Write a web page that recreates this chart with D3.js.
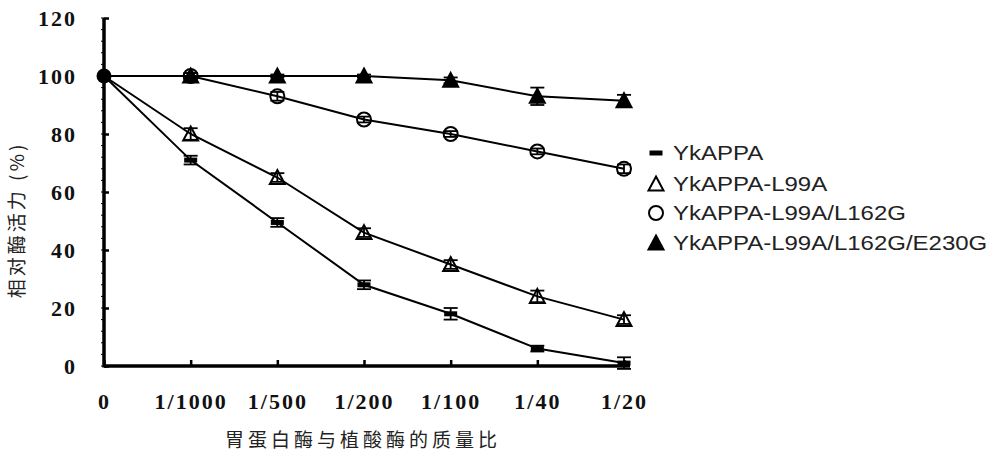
<!DOCTYPE html>
<html>
<head>
<meta charset="utf-8">
<script src="https://cdn.jsdelivr.net/npm/d3@7/dist/d3.min.js"></script>
<style>
body { margin: 0; background: #fff; }
.tick text { font-family: "Liberation Serif", "Times New Roman", serif; font-weight: bold; font-size: 22px; fill: #111; letter-spacing: 2px; }
</style>
</head>
<body>
<div id="chart"></div>
<script>
// data
var categories = ["0", "1/1000", "1/500", "1/200", "1/100", "1/40", "1/20"];
var yTicks = [0, 20, 40, 60, 80, 100, 120];
var seriesNames = ["YkAPPA", "YkAPPA-L99A", "YkAPPA-L99A/L162G", "YkAPPA-L99A/L162G/E230G"];
var ykappa = [100, 71, 49.5, 28, 18, 6, 1];
var ykappaErr = [0.5, 1.5, 1.5, 1.5, 2, 1, 2];
var l99a = [100, 80, 65, 46, 35, 24, 16];
var l99aErr = [0.5, 2, 1.5, 1.5, 1.5, 2, 1.5];
var l162g = [100, 100, 93, 85, 80, 74, 68];
var l162gErr = [0.5, 1, 1.5, 1, 1, 1, 1.5];
var e230g = [100, 100, 100, 100, 98.5, 93, 91.5];
var e230gErr = [0.5, 1, 0.5, 0.5, 1, 3, 2];

var svgWidth = 1000;
var svgHeight = 462;

var svg = d3.select("#chart")
	.append("svg")
	.attr("width", svgWidth)
	.attr("height", svgHeight);

var xScale = d3.scalePoint()
	.domain(categories)
	.range([104, 624]);

var yScale = d3.scaleLinear()
	.domain([0, 120])
	.range([366, 18]);

//series table, built from the arrays above
var series = [
	{name: seriesNames[0], values: ykappa, err: ykappaErr, marker: "bar"},
	{name: seriesNames[1], values: l99a, err: l99aErr, marker: "tri-open"},
	{name: seriesNames[2], values: l162g, err: l162gErr, marker: "circle-open"},
	{name: seriesNames[3], values: e230g, err: e230gErr, marker: "tri-filled"}
];

//lines
var line = d3.line()
	.x(function(d, i) { return xScale(categories[i]); })
	.y(function(d) { return yScale(d); });

series.forEach(function(s) {
	svg.append("path")
		.attr("d", line(s.values))
		.attr("fill", "none")
		.attr("stroke", "#000")
		.attr("stroke-width", 2);
});

//error bars
series.forEach(function(s) {
	s.values.forEach(function(v, i) {
		if (i == 0) return;
		var x = xScale(categories[i]);
		var y1 = yScale(v + s.err[i]);
		var y2 = yScale(v - s.err[i]);
		var g = svg.append("g").attr("stroke", "#000").attr("stroke-width", 1.8);
		g.append("line").attr("x1", x).attr("x2", x).attr("y1", y1).attr("y2", y2);
		g.append("line").attr("x1", x - 7).attr("x2", x + 7).attr("y1", y1).attr("y2", y1);
		g.append("line").attr("x1", x - 7).attr("x2", x + 7).attr("y1", y2).attr("y2", y2);
	});
});

//marker drawing
function drawMarker(g, type, x, y) {
	if (type == "bar") {
		g.append("rect")
			.attr("x", x - 6.5).attr("y", y - 2.5)
			.attr("width", 13).attr("height", 5)
			.attr("fill", "#000");
	} else if (type == "tri-open" || type == "tri-filled") {
		g.append("path")
			.attr("d", "M" + x + "," + (y - 7.5) + " L" + (x + 7.5) + "," + (y + 6.5) + " L" + (x - 7.5) + "," + (y + 6.5) + " Z")
			.attr("fill", type == "tri-open" ? "#fff" : "#000")
			.attr("fill-opacity", type == "tri-open" ? 0 : 1)
			.attr("stroke", "#000")
			.attr("stroke-width", 2);
	} else if (type == "circle-open") {
		g.append("circle")
			.attr("cx", x).attr("cy", y).attr("r", 7)
			.attr("fill", "none")
			.attr("stroke", "#000")
			.attr("stroke-width", 2);
	}
}

series.forEach(function(s) {
	s.values.forEach(function(v, i) {
		if (i == 0) return;
		drawMarker(svg, s.marker, xScale(categories[i]), yScale(v));
	});
});

//starting point, all series overlap at 100
svg.append("circle")
	.attr("cx", xScale(categories[0]))
	.attr("cy", yScale(ykappa[0]))
	.attr("r", 7.5)
	.attr("fill", "#000");

//y axis
var yAxis = d3.axisLeft()
	.scale(yScale)
	.tickValues(yTicks)
	.tickSizeInner(-5)
	.tickSizeOuter(0)
	.tickPadding(27);

var yG = svg.append("g")
	.attr("transform", "translate(" + xScale(categories[0]) + ",0)")
	.call(yAxis);
yG.select(".domain").remove();
yG.selectAll(".tick line").attr("stroke-width", 2.5);

//minor ticks on the outer side
svg.append("g")
	.selectAll("line")
	.data(d3.range(0, 121, 4))
	.enter()
	.append("line")
	.attr("x1", 101).attr("x2", 104)
	.attr("y1", function(d) { return yScale(d); })
	.attr("y2", function(d) { return yScale(d); })
	.attr("stroke", "#000")
	.attr("stroke-width", 1);

svg.append("line")
	.attr("x1", 104).attr("x2", 104)
	.attr("y1", yScale(120)).attr("y2", yScale(0) + 1.5)
	.attr("stroke", "#000")
	.attr("stroke-width", 3.5);

//x axis
var xAxis = d3.axisBottom()
	.scale(xScale)
	.tickSizeInner(-6)
	.tickSizeOuter(0)
	.tickPadding(27);

var xG = svg.append("g")
	.attr("transform", "translate(0," + yScale(0) + ")")
	.call(xAxis);
xG.select(".domain").remove();
xG.selectAll(".tick line").attr("stroke-width", 2.5);

svg.append("line")
	.attr("x1", 104).attr("x2", 630)
	.attr("y1", yScale(0)).attr("y2", yScale(0))
	.attr("stroke", "#000")
	.attr("stroke-width", 3.5);

//axis titles
svg.append("text")
	.attr("x", 363)
	.attr("y", 447)
	.style("text-anchor", "middle")
	.style("font-family", "'Noto Sans CJK SC', sans-serif")
	.style("font-size", "19px")
	.style("letter-spacing", "4px")
	.style("fill", "#222")
	.text("胃蛋白酶与植酸酶的质量比");

svg.append("text")
	.attr("transform", "translate(24,220) rotate(-90)")
	.style("text-anchor", "middle")
	.style("font-family", "'Noto Sans CJK SC', sans-serif")
	.style("font-size", "19px")
	.style("letter-spacing", "3px")
	.style("fill", "#222")
	.text("相对酶活力 (%)");

//legend
var legendY = [153, 184, 213, 243];
series.forEach(function(s, i) {
	var g = svg.append("g");
	drawMarker(g, s.marker, 656, legendY[i]);
	g.append("text")
		.attr("transform", "translate(673," + (legendY[i] + 7) + ") scale(1.2,1)")
		.style("font-family", "'Liberation Sans', Arial, sans-serif")
		.style("font-size", "20px")
		.style("fill", "#222")
		.text(s.name);
});
</script>
</body>
</html>
